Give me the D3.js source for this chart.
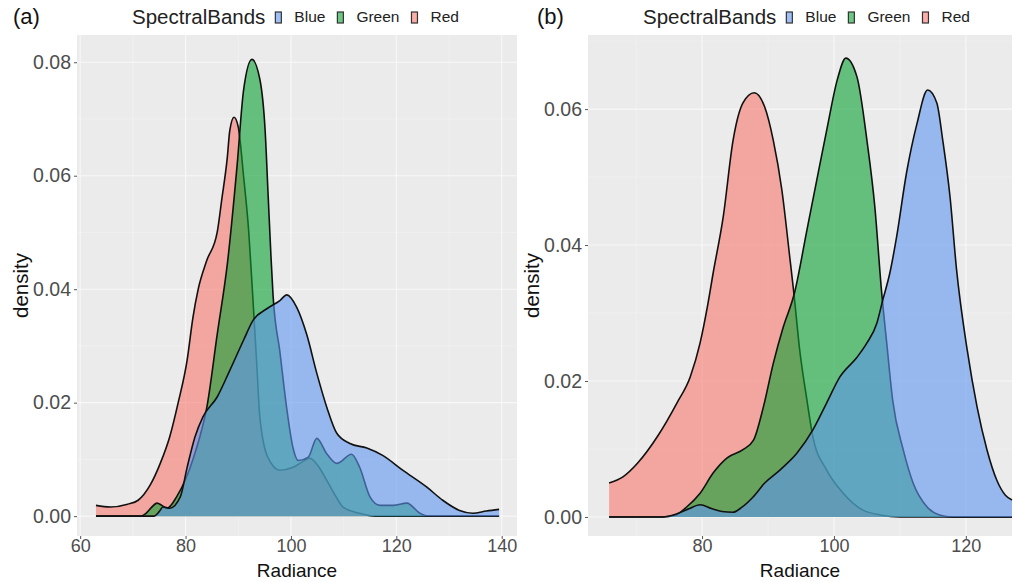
<!DOCTYPE html>
<html>
<head>
<meta charset="utf-8">
<script src="https://cdn.jsdelivr.net/npm/d3@7"></script>
<style>
  body { margin: 0; background: #fff; }
  text { font-family: "Liberation Sans", Arial, sans-serif; }
</style>
</head>
<body>
<div id="chart"></div>
<script>
// ---------------- data ----------------
var bands = ["Blue", "Green", "Red"];
var bandColors = { Blue: "#5f96f0", Green: "#0aa232", Red: "#f8766d" };

// panel (a)
var radA_red   = [63, 65.7, 69, 71, 73.3, 75.2, 77, 78.6, 80.3, 81.4, 82.4, 84, 86, 86.9, 87.9, 88.4, 89.2, 90, 91, 92, 92.8, 93.5, 94.1, 95.6, 97.9, 100.4, 101.7, 103.6, 105.2, 106.8, 108.5, 109.9, 113, 116, 139.5];
var denA_red   = [0.0019, 0.0016, 0.0021, 0.0028, 0.0055, 0.0093, 0.014, 0.020, 0.0275, 0.035, 0.040, 0.045, 0.050, 0.056, 0.063, 0.068, 0.0703, 0.0686, 0.060, 0.050, 0.038, 0.027, 0.0175, 0.0104, 0.0081, 0.0086, 0.0093, 0.0102, 0.0088, 0.0063, 0.0035, 0.0016, 0.0005, 0, 0];
var radA_green = [63, 71.5, 72.5, 73.5, 74.6, 75.5, 76.5, 78.3, 80, 81.4, 83, 84, 86, 88, 89.8, 91, 92.6, 94.1, 95.1, 95.7, 96.2, 96.6, 97.9, 99.2, 100.4, 101.4, 103.3, 104.9, 106.8, 108.7, 111.5, 113, 115, 116.9, 119.4, 122, 124.5, 126, 139.5];
var denA_green = [0, 0, 0.0005, 0.0015, 0.0023, 0.0019, 0.0014, 0.0034, 0.0065, 0.010, 0.015, 0.019, 0.032, 0.045, 0.062, 0.075, 0.0805, 0.077, 0.068, 0.056, 0.046, 0.039, 0.029, 0.019, 0.012, 0.0098, 0.0104, 0.0137, 0.011, 0.0093, 0.0109, 0.0087, 0.0034, 0.0019, 0.0019, 0.0023, 0.0005, 0, 0];
var radA_blue  = [63, 74, 75, 75.7, 77, 79, 80.3, 81.8, 83.3, 86, 88.4, 91, 92.8, 95.5, 97.9, 99.2, 101.1, 103, 104.9, 106.8, 108.7, 111.2, 114.4, 117.4, 121.2, 125.8, 128.8, 132, 134.5, 137.1, 139.5];
var denA_blue  = [0, 0, 0.0008, 0.0016, 0.0014, 0.0034, 0.0086, 0.014, 0.0175, 0.021, 0.0257, 0.031, 0.0345, 0.0366, 0.038, 0.039, 0.0368, 0.032, 0.0252, 0.0192, 0.0146, 0.0128, 0.012, 0.0107, 0.0081, 0.0051, 0.0028, 0.001, 0.0005, 0.0009, 0.0012];

// panel (b)
var radB_red   = [65.9, 68, 70.2, 73.2, 76.2, 78.2, 79.7, 80.8, 81.7, 83.2, 84.7, 86.2, 87.9, 89.5, 90.8, 92.1, 93.3, 93.9, 94.8, 95.9, 96.8, 98.9, 101.4, 104.4, 107, 110, 127];
var denB_red   = [0.0050, 0.0059, 0.0079, 0.0118, 0.0168, 0.0206, 0.0256, 0.0309, 0.0360, 0.0441, 0.0554, 0.0609, 0.0624, 0.0603, 0.0554, 0.0481, 0.0382, 0.0331, 0.0246, 0.0172, 0.0118, 0.0069, 0.0035, 0.0010, 0.0003, 0, 0];
var radB_green = [65.9, 74, 76, 77.7, 79.7, 81.7, 83.8, 86.2, 87.8, 89.3, 90.8, 92.3, 94, 95.9, 97.4, 98.9, 100.5, 101.8, 103.5, 105, 106.2, 107.2, 108, 108.9, 110.5, 112, 114.1, 116, 118, 127];
var denB_green = [0, 0, 0.0003, 0.0015, 0.0035, 0.0065, 0.0087, 0.0099, 0.0113, 0.0162, 0.0226, 0.0279, 0.0329, 0.0422, 0.0496, 0.0569, 0.0643, 0.0675, 0.0647, 0.0554, 0.0456, 0.0334, 0.0256, 0.0172, 0.0099, 0.0050, 0.0015, 0.0003, 0, 0];
var radB_blue  = [65.9, 74, 76, 78, 79.7, 81.5, 83, 84.7, 86, 87.7, 89.5, 91.8, 94.4, 96.8, 98.9, 100.9, 103.5, 105, 106.5, 107.4, 108.5, 109.5, 111, 112.6, 114.2, 115.6, 116.5, 117.6, 118.6, 120.2, 121.7, 123.2, 124.7, 126, 127];
var denB_blue  = [0, 0, 0.0004, 0.0012, 0.0018, 0.0012, 0.0008, 0.0007, 0.0014, 0.0029, 0.0050, 0.0069, 0.0094, 0.0128, 0.0168, 0.0206, 0.0235, 0.0256, 0.0285, 0.0319, 0.0360, 0.0412, 0.0506, 0.0579, 0.0628, 0.0609, 0.0554, 0.0471, 0.0363, 0.0246, 0.0162, 0.0099, 0.0054, 0.0032, 0.0025];

// ticks
var xTicksA = [60, 80, 100, 120, 140];
var yTicksA = [0, 0.02, 0.04, 0.06, 0.08];
var xTicksB = [80, 100, 120];
var yTicksB = [0, 0.02, 0.04, 0.06];

// ---------------- svg ----------------
var width = 1020, height = 582;
var svg = d3.select("#chart").append("svg")
  .attr("width", width)
  .attr("height", height);

svg.append("rect").attr("width", width).attr("height", height).attr("fill", "#fff");

function zip(xs, ys) {
  return xs.map(function (x, i) { return { x: x, d: ys[i] }; });
}

function drawPanel(p) {
  var x = d3.scaleLinear().domain(p.xDomain).range([p.left, p.right]);
  var y = d3.scaleLinear().domain(p.yDomain).range([p.bottom, p.top]);
  var g = svg.append("g");

  // panel background
  g.append("rect")
    .attr("x", p.left).attr("y", p.top)
    .attr("width", p.right - p.left).attr("height", p.bottom - p.top)
    .attr("fill", "#ebebeb");

  // minor grid (half way between major ticks)
  var xMinor = [], yMinor = [];
  for (var i = 0; i < p.xTicks.length + 1; i++) {
    var xm = p.xTicks[0] + (i - 0.5) * (p.xTicks[1] - p.xTicks[0]);
    if (xm > p.xDomain[0] && xm < p.xDomain[1]) xMinor.push(xm);
  }
  for (var j = 0; j < p.yTicks.length + 1; j++) {
    var ym = p.yTicks[0] + (j + 0.5) * (p.yTicks[1] - p.yTicks[0]);
    if (ym > p.yDomain[0] && ym < p.yDomain[1]) yMinor.push(ym);
  }
  g.selectAll(".vminor").data(xMinor).enter().append("line")
    .attr("x1", x).attr("x2", x).attr("y1", p.top).attr("y2", p.bottom)
    .attr("stroke", "#f4f4f4").attr("stroke-width", 0.6);
  g.selectAll(".hminor").data(yMinor).enter().append("line")
    .attr("y1", y).attr("y2", y).attr("x1", p.left).attr("x2", p.right)
    .attr("stroke", "#f4f4f4").attr("stroke-width", 0.6);
  g.selectAll(".vmajor").data(p.xTicks).enter().append("line")
    .attr("x1", x).attr("x2", x).attr("y1", p.top).attr("y2", p.bottom)
    .attr("stroke", "#f8f8f8").attr("stroke-width", 1.1);
  g.selectAll(".hmajor").data(p.yTicks).enter().append("line")
    .attr("y1", y).attr("y2", y).attr("x1", p.left).attr("x2", p.right)
    .attr("stroke", "#f8f8f8").attr("stroke-width", 1.1);

  // densities: red first, then green, blue on top
  var area = d3.area().curve(d3.curveMonotoneX)
    .x(function (d) { return x(d.x); })
    .y0(y(0))
    .y1(function (d) { return y(d.d); });
  var line = d3.line().curve(d3.curveMonotoneX)
    .x(function (d) { return x(d.x); })
    .y(function (d) { return y(d.d); });

  p.series.forEach(function (s) {
    g.append("path").datum(s.values)
      .attr("d", area)
      .attr("fill", bandColors[s.band])
      .attr("fill-opacity", 0.6);
    g.append("path").datum(s.values)
      .attr("d", line)
      .attr("fill", "none")
      .attr("stroke", "#111")
      .attr("stroke-width", 1.6);
  });

  // axes
  var ax = g.append("g").attr("transform", "translate(0," + p.bottom + ")")
    .call(d3.axisBottom(x).tickValues(p.xTicks).tickSize(3).tickPadding(0).tickFormat(d3.format("d")));
  var ay = g.append("g").attr("transform", "translate(" + p.left + ",0)")
    .call(d3.axisLeft(y).tickValues(p.yTicks).tickSize(3).tickPadding(3).tickFormat(d3.format(".2f")));
  [ax, ay].forEach(function (a) {
    a.select(".domain").remove();
    a.selectAll(".tick line").attr("stroke", "#555");
    a.selectAll(".tick text").attr("fill", "#4d4d4d").style("font-size", "18px")
      .style("font-family", "'Liberation Sans', Arial, sans-serif");
  });
  ay.selectAll(".tick text").style("font-size", "19.5px");

  // axis titles
  g.append("text")
    .attr("x", (p.left + p.right) / 2).attr("y", 577)
    .attr("text-anchor", "middle").style("font-size", "19px").attr("fill", "#111")
    .text("Radiance");
  g.append("text")
    .attr("transform", "translate(" + p.ylabX + "," + ((p.top + p.bottom) / 2) + ") rotate(-90)")
    .attr("text-anchor", "middle").style("font-size", "20.5px").attr("fill", "#111")
    .text("density");

  // tag
  g.append("text").attr("x", p.tagX).attr("y", 24)
    .style("font-size", "22px").attr("fill", "#111").text(p.tag);

  // legend
  var lg = g.append("g");
  var title = lg.append("text").attr("x", p.legendX).attr("y", 24)
    .style("font-size", "20.5px").attr("fill", "#222").text("SpectralBands");
  var cx = p.legendX + title.node().getComputedTextLength() + 10;
  bands.forEach(function (b) {
    lg.append("rect").attr("x", cx).attr("y", 12).attr("width", 6).attr("height", 11)
      .attr("fill", bandColors[b]).attr("fill-opacity", 0.6)
      .attr("stroke", "#333").attr("stroke-width", 1.2);
    var t = lg.append("text").attr("x", cx + 19).attr("y", 22)
      .style("font-size", "15.5px").attr("fill", "#222").text(b);
    cx = cx + 19 + t.node().getComputedTextLength() + 12;
  });
}

drawPanel({
  left: 77, right: 517, top: 35, bottom: 536,
  xDomain: [59.4, 142.9], yDomain: [-0.0035, 0.0848],
  xTicks: xTicksA, yTicks: yTicksA,
  ylabX: 28, tag: "(a)", tagX: 13, legendX: 132,
  series: [
    { band: "Red", values: zip(radA_red, denA_red) },
    { band: "Green", values: zip(radA_green, denA_green) },
    { band: "Blue", values: zip(radA_blue, denA_blue) }
  ]
});

drawPanel({
  left: 588, right: 1012, top: 35, bottom: 536,
  xDomain: [62.7, 127], yDomain: [-0.0028, 0.0709],
  xTicks: xTicksB, yTicks: yTicksB,
  ylabX: 539, tag: "(b)", tagX: 537, legendX: 643,
  series: [
    { band: "Red", values: zip(radB_red, denB_red) },
    { band: "Green", values: zip(radB_green, denB_green) },
    { band: "Blue", values: zip(radB_blue, denB_blue) }
  ]
});
</script>
</body>
</html>
